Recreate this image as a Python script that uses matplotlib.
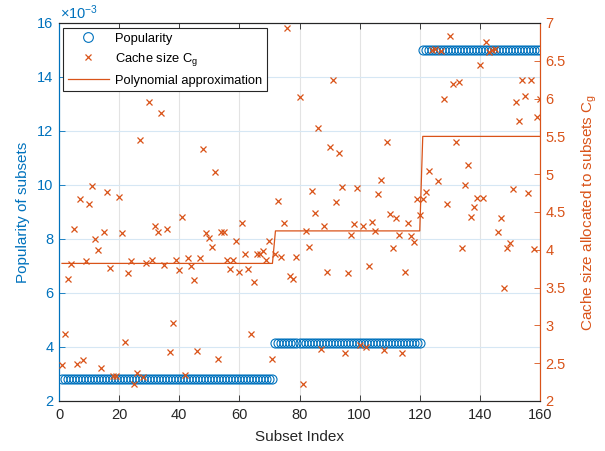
import numpy as np
import matplotlib
matplotlib.use("Agg")
import matplotlib.pyplot as plt
from matplotlib.lines import Line2D

plt.rcParams['font.family'] = ['Liberation Sans', 'DejaVu Sans']
plt.rcParams['mathtext.fontset'] = 'custom'
plt.rcParams['mathtext.rm'] = 'Liberation Sans'
plt.rcParams['mathtext.it'] = 'Liberation Sans'

# ---- data ----
subset_index = np.arange(1, 161)
group_sizes = [71, 49, 40]
popularity_levels = [2.83e-3, 4.13e-3, 15.0e-3]
poly_levels = [3.82, 4.25, 5.50]

cache_size = [
    2.48, 2.89, 3.62, 3.81, 4.27, 2.49, 4.67, 2.54, 3.85, 4.60,
    4.85, 4.14, 4.00, 2.44, 4.23, 4.76, 3.76, 2.33, 2.33, 4.70,
    4.22, 2.78, 3.69, 3.85, 2.22, 2.37, 5.45, 2.32, 3.83, 5.95,
    3.87, 4.31, 4.23, 5.81, 3.80, 4.27, 2.65, 3.03, 3.86, 3.73,
    4.44, 2.35, 3.89, 3.78, 3.60, 2.66, 3.89, 5.33, 4.22, 4.15,
    4.04, 5.03, 2.56, 4.23, 4.23, 3.86, 3.74, 3.86, 4.12, 3.71,
    4.36, 3.94, 3.74, 2.89, 3.58, 3.94, 3.94, 3.98, 3.86, 4.12,
    2.55, 3.95, 4.65, 3.90, 4.35, 6.94, 3.65, 3.62, 3.91, 6.02,
    2.22, 4.25, 4.04, 4.78, 4.49, 5.61, 2.69, 4.31, 3.70, 5.36,
    6.25, 4.63, 5.28, 4.83, 2.64, 3.69, 4.20, 4.34, 4.82, 2.74,
    4.32, 2.72, 3.78, 4.37, 4.25, 4.74, 4.92, 2.67, 5.43, 4.47,
    4.03, 4.42, 4.20, 2.63, 3.70, 4.35, 4.18, 4.10, 4.67, 4.46,
    4.67, 4.77, 5.04, 6.64, 6.65, 4.91, 6.63, 5.99, 4.61, 6.83,
    6.19, 5.43, 6.22, 4.03, 4.86, 5.12, 4.44, 4.56, 4.69, 6.44,
    4.69, 6.75, 6.61, 6.64, 6.66, 4.24, 4.42, 3.49, 4.03, 4.09,
    4.81, 5.96, 5.70, 6.25, 6.04, 4.75, 6.25, 4.01, 5.76, 5.99,
]

popularity = np.repeat(popularity_levels, group_sizes)
poly_approx = np.repeat(poly_levels, group_sizes)

x_ticks = [0, 20, 40, 60, 80, 100, 120, 140, 160]
left_ticks = [2, 4, 6, 8, 10, 12, 14, 16]
right_ticks = [2, 2.5, 3, 3.5, 4, 4.5, 5, 5.5, 6, 6.5, 7]

BLUE = '#0072BD'
ORANGE = '#D95319'
DARK = '#262626'

fig = plt.figure(figsize=(6.05, 4.51), dpi=100)
ax = fig.add_axes([59/605, 1-401/451, 481/605, 378/451])
ax2 = ax.twinx()

# popularity (left axis)
ax.plot(subset_index, popularity * 1e3, 'o', mfc='none', mec=BLUE, ms=6.5, mew=0.8,
        zorder=3)
ax.set_xlim(0, 160)
ax.set_ylim(2, 16)
ax.set_xticks(x_ticks)
ax.set_yticks(left_ticks)
ax.set_yticklabels([str(t) for t in left_ticks])

# cache size (right axis)
ax2.plot(subset_index, cache_size, 'x', color=ORANGE, ms=5, mew=0.9, zorder=3)
ax2.plot(subset_index, poly_approx, '-', color=ORANGE, lw=0.9, zorder=2)
ax2.set_ylim(2, 7)
ax2.set_yticks(right_ticks)
ax2.set_yticklabels([('%g' % t) for t in right_ticks])

# grid
ax.set_axisbelow(True)
ax.xaxis.grid(True, color='#e3e3e3', lw=0.8)
ax.yaxis.grid(True, color='#d6e7f4', lw=0.8)

# spines & ticks
fs = 10.5
for a in (ax, ax2):
    a.spines['top'].set_color(DARK)
    a.spines['bottom'].set_color(DARK)
    a.spines['left'].set_color(BLUE)
    a.spines['right'].set_color(ORANGE)
    for s in a.spines.values():
        s.set_linewidth(0.8)
ax.tick_params(axis='x', direction='in', length=4, width=0.6, colors=DARK,
               labelsize=fs, top=True, pad=5)
ax.tick_params(axis='y', direction='in', length=4, width=0.6, colors=BLUE,
               labelsize=fs, pad=4)
ax2.tick_params(axis='y', direction='in', length=4, width=0.6, colors=ORANGE,
                labelsize=fs, pad=4)

ax.set_xlabel('Subset Index', fontsize=fs + 0.5, color=DARK, labelpad=6)
ax.set_ylabel('Popularity of subsets', fontsize=fs + 0.5, color=BLUE, labelpad=5)
ax2.set_ylabel('Cache size allocated to subsets C$_\\mathrm{g}$', fontsize=fs + 0.5,
               color=ORANGE, labelpad=10)

fig.text(60/605, 1-19/451, '$\\times$10$^{-3}$', color=BLUE, fontsize=fs,
         ha='left', va='baseline')

handles = [
    Line2D([], [], marker='o', ls='none', mfc='none', mec=BLUE, ms=7, mew=0.8),
    Line2D([], [], marker='x', ls='none', color=ORANGE, ms=5, mew=0.9),
    Line2D([], [], ls='-', color=ORANGE, lw=0.9),
]
labels = ['Popularity', 'Cache size C$_\\mathrm{g}$', 'Polynomial approximation']
leg = ax2.legend(handles, labels, loc='upper left',
                 bbox_to_anchor=(4/481, 1 - 5/378), fontsize=9.3,
                 frameon=True, fancybox=False, framealpha=1, edgecolor=DARK,
                 handlelength=3.2, handletextpad=0.5, borderpad=0.35,
                 labelspacing=0.5, borderaxespad=0)
leg.get_frame().set_linewidth(0.8)

fig.savefig('out.png', dpi=100)
